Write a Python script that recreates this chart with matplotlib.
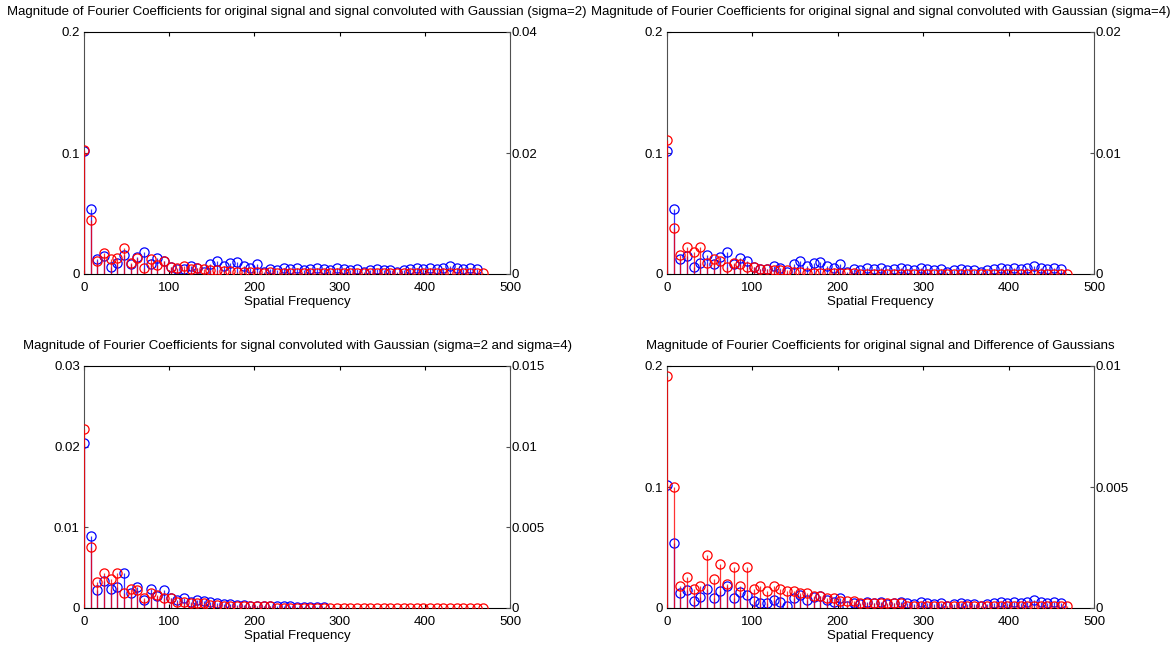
import matplotlib
matplotlib.use("Agg")
import matplotlib.pyplot as plt
import numpy as np

plt.rcParams["font.family"] = ["Liberation Sans", "DejaVu Sans"]

# spacing between spatial frequency samples
freq_step = 500 / 64

# |FFT| of the original signal (60 samples)
original = [0.102, 0.054, 0.012, 0.015, 0.006, 0.009, 0.016, 0.008, 0.014, 0.018,
            0.008, 0.013, 0.011, 0.006, 0.004, 0.004, 0.007, 0.005, 0.002, 0.008,
            0.011, 0.007, 0.009, 0.010, 0.007, 0.005, 0.008, 0.002, 0.004, 0.003,
            0.005, 0.004, 0.005, 0.003, 0.004, 0.005, 0.004, 0.003, 0.005, 0.004,
            0.003, 0.004, 0.002, 0.003, 0.004, 0.003, 0.003, 0.002, 0.003, 0.004,
            0.005, 0.004, 0.005, 0.004, 0.005, 0.007, 0.005, 0.004, 0.005, 0.004]

# |FFT| after Gaussian smoothing, sigma = 2 (61 samples)
sigma2 = [0.0205, 0.0089, 0.0022, 0.0034, 0.0024, 0.0026, 0.0043, 0.0018, 0.0026, 0.0010,
          0.0024, 0.0015, 0.0022, 0.0012, 0.0010, 0.0013, 0.0008, 0.0010, 0.0009, 0.0007,
          0.0006, 0.0005, 0.0005, 0.0004, 0.0004, 0.0003, 0.0003, 0.0002, 0.0003, 0.0002,
          0.0002, 0.0002, 0.0001, 0.0001, 0.0001, 0.0001, 0.0001, 0.0001, 0.0001, 0.0001,
          0.0001, 0.0001, 0.0001, 0.0001, 0.0001, 0.0001, 0.0001, 0.0001, 0.0001, 0.0001,
          0.0001, 0.0001, 0.0001, 0.0001, 0.0001, 0.0001, 0.0001, 0.0001, 0.0001, 0.0001,
          0.0001]

# |FFT| after Gaussian smoothing, sigma = 4 (61 samples)
sigma4 = [0.0111, 0.0038, 0.0016, 0.0022, 0.0018, 0.0022, 0.0009, 0.0012, 0.0011, 0.0006,
          0.0009, 0.0008, 0.0006, 0.0006, 0.0004, 0.0004, 0.0003, 0.0003, 0.0003, 0.0002,
          0.0002, 0.0001, 0.0001, 0.0001, 0.0001, 0.0001, 0.0001, 0.0001, 0.0001, 0.0000,
          0.0000, 0.0000, 0.0000, 0.0000, 0.0000, 0.0000, 0.0000, 0.0000, 0.0000, 0.0000,
          0.0000, 0.0000, 0.0000, 0.0000, 0.0000, 0.0000, 0.0000, 0.0000, 0.0000, 0.0000,
          0.0000, 0.0000, 0.0000, 0.0000, 0.0000, 0.0000, 0.0000, 0.0000, 0.0000, 0.0000,
          0.0000]

# number of sigma=2 samples shown in the third panel
sigma2_shown = 37

# |FFT| of the difference of Gaussians (61 samples)
dog = [0.0096, 0.0050, 0.0009, 0.0013, 0.0008, 0.0009, 0.0022, 0.0012, 0.0018, 0.0010,
       0.0017, 0.0009, 0.0017, 0.0008, 0.0009, 0.0007, 0.0009, 0.0008, 0.0007, 0.0007,
       0.0006, 0.0006, 0.0005, 0.0005, 0.0004, 0.0004, 0.0003, 0.0003, 0.0003, 0.0002,
       0.0002, 0.0002, 0.0002, 0.0002, 0.0002, 0.0002, 0.0001, 0.0001, 0.0001, 0.0001,
       0.0001, 0.0001, 0.0001, 0.0001, 0.0001, 0.0001, 0.0001, 0.0001, 0.0001, 0.0001,
       0.0001, 0.0001, 0.0001, 0.0001, 0.0001, 0.0001, 0.0001, 0.0001, 0.0001, 0.0001,
       0.0001]

titles = [
    "Magnitude of Fourier Coefficients for original signal and signal convoluted with Gaussian (sigma=2)",
    "Magnitude of Fourier Coefficients for original signal and signal convoluted with Gaussian (sigma=4)",
    "Magnitude of Fourier Coefficients for signal convoluted with Gaussian (sigma=2 and sigma=4)",
    "Magnitude of Fourier Coefficients for original signal and Difference of Gaussians",
]
x_label = "Spatial Frequency"
x_ticks = [0, 100, 200, 300, 400, 500]

left_ticks = [[0, 0.1, 0.2], [0, 0.1, 0.2], [0, 0.01, 0.02, 0.03], [0, 0.1, 0.2]]
left_ticklabels = [["0", "0.1", "0.2"], ["0", "0.1", "0.2"],
                   ["0", "0.01", "0.02", "0.03"], ["0", "0.1", "0.2"]]
right_ticks = [[0, 0.02, 0.04], [0, 0.01, 0.02], [0, 0.005, 0.01, 0.015], [0, 0.005, 0.01]]
right_ticklabels = [["0", "0.02", "0.04"], ["0", "0.01", "0.02"],
                    ["0", "0.005", "0.01", "0.015"], ["0", "0.005", "0.01"]]

left_series = [original, original, sigma2[:sigma2_shown], original]
right_series = [sigma2, sigma4, sigma4, dog]

W, H = 1173, 646
fig = plt.figure(figsize=(W / 100, H / 100), dpi=100)

# axes boxes in pixels: (left, top, right, bottom)
boxes = [(84, 32, 510, 274), (667, 32, 1094, 274),
         (84, 366, 510, 608), (667, 366, 1094, 608)]

FS = 9.5
BLUE = "#0000ff"
RED = "#ff0000"
AXIS_GREY = "#505050"


def stem_series(ax, vals, color):
    x = np.arange(len(vals)) * freq_step
    markers, stems, base = ax.stem(x, vals)
    plt.setp(stems, color=color, linewidth=0.9, alpha=0.8)
    plt.setp(markers, marker="o", markersize=6.6, markerfacecolor="none",
             markeredgecolor=color, markeredgewidth=0.9, linestyle="none")
    base.set_visible(False)


for i in range(4):
    l, t, r, b = boxes[i]
    rect = [l / W, 1 - b / H, (r - l) / W, (b - t) / H]
    ax = fig.add_axes(rect)
    ax.patch.set_alpha(0)
    stem_series(ax, left_series[i], BLUE)
    ax.set_xlim(0, 500)
    ax.set_ylim(left_ticks[i][0], left_ticks[i][-1])
    ax.set_xticks(x_ticks)
    ax.set_xticklabels([str(v) for v in x_ticks])
    ax.set_yticks(left_ticks[i])
    ax.set_yticklabels(left_ticklabels[i])
    ax.tick_params(axis="x", direction="in", length=3, width=0.8, labelsize=FS,
                   pad=6, top=True, colors="black")
    ax.tick_params(axis="y", direction="in", length=3, width=0.8, labelsize=FS,
                   pad=3, colors=AXIS_GREY, labelcolor="black")
    ax.spines["right"].set_visible(False)
    ax.spines["left"].set_color(AXIS_GREY)
    for s in ("top", "bottom"):
        ax.spines[s].set_color("black")
    for s in ax.spines.values():
        s.set_linewidth(0.8)
    ax.set_xlabel(x_label, fontsize=FS, labelpad=1)

    ax2 = ax.twinx()
    stem_series(ax2, right_series[i], RED)
    ax2.set_xlim(0, 500)
    ax2.set_ylim(right_ticks[i][0], right_ticks[i][-1])
    ax2.set_yticks(right_ticks[i])
    ax2.set_yticklabels(right_ticklabels[i])
    ax2.tick_params(axis="y", direction="in", length=3, width=0.8, labelsize=FS,
                    pad=1, colors=AXIS_GREY, labelcolor="black")
    for s in ("left", "top", "bottom"):
        ax2.spines[s].set_visible(False)
    ax2.spines["right"].set_color(AXIS_GREY)
    ax2.spines["right"].set_linewidth(0.8)

    # title centred over the axes, about 20 px above the top edge
    fig.text((l + r) / 2 / W, 1 - (t - 20) / H, titles[i], fontsize=FS,
             ha="center", va="center")

fig.savefig("out.png", dpi=100, facecolor="white")
